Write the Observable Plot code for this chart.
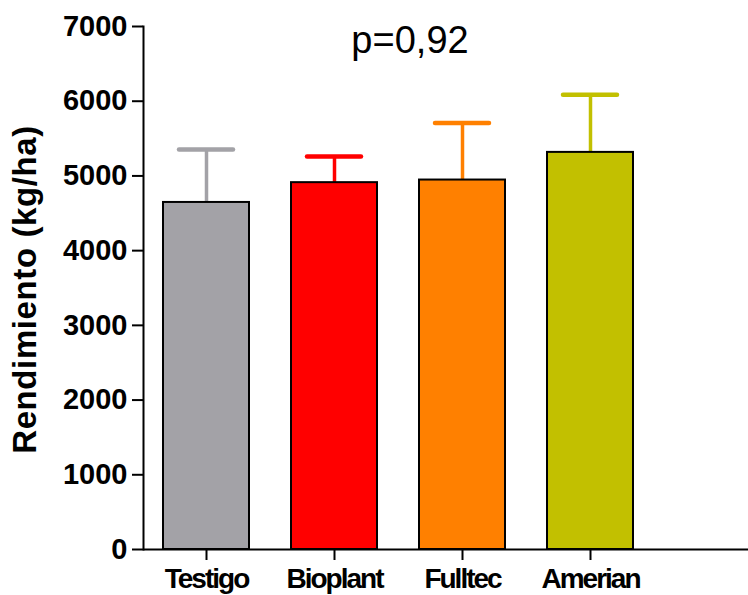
<!DOCTYPE html>
<html>
<head>
<meta charset="utf-8">
<script src="https://cdn.jsdelivr.net/npm/d3@7"></script>
<script src="https://cdn.jsdelivr.net/npm/@observablehq/plot@0.6"></script>
<style>
  body { margin: 0; background: #fff; }
  #chart svg { font-family: "Liberation Sans", Arial, sans-serif; }
  g[aria-label="x-axis tick label"] text { letter-spacing: -2px; }
  g[aria-label="text"]:last-of-type text { letter-spacing: 0.6px; }
</style>
</head>
<body>
<div id="chart"></div>
<script>
const categories = ["Testigo", "Bioplant", "Fulltec", "Amerian"];
const means = [4645, 4910, 4945, 5315];
const errorTops = [5355, 5260, 5710, 6085];
const colors = ["#A3A2A7", "#FF0000", "#FF8000", "#C2C000"];
const yTicks = [0, 1000, 2000, 3000, 4000, 5000, 6000, 7000];
const title = "p=0,92";
const yLabel = "Rendimiento (kg/ha)";

const data = categories.map((c, i) => ({cat: c, mean: means[i], top: errorTops[i]}));

const chart = Plot.plot({
  width: 748,
  height: 595,
  marginTop: 26,
  marginBottom: 46,
  marginLeft: 143,
  marginRight: 0,
  style: {fontFamily: "Liberation Sans, Arial, sans-serif", background: "#fff"},
  x: {domain: categories, range: [143, 653], paddingInner: 0.332, paddingOuter: 0.148},
  y: {domain: [0, 7000]},
  color: {domain: categories, range: colors},
  marks: [
    Plot.ruleX(data, {x: "cat", y1: "mean", y2: "top", stroke: "cat", strokeWidth: 3.5}),
    Plot.tickY(data, {x: "cat", y: "top", stroke: "cat", strokeWidth: 4.5, insetLeft: 16, insetRight: 16, strokeLinecap: "round"}),
    Plot.barY(data, {x: "cat", y: "mean", fill: "cat", stroke: "#000", strokeWidth: 2}),
    Plot.axisY({ticks: yTicks, tickSize: 11, tickPadding: 5, tickFormat: d => String(d), fontSize: 29, fontWeight: "bold", strokeWidth: 2, label: null, color: "#000"}),
    Plot.axisX({tickSize: 11, tickPadding: 8, fontSize: 28, fontWeight: "bold", strokeWidth: 2, label: null, color: "#000"}),
    Plot.frame({anchor: "left", strokeWidth: 2}),
    Plot.ruleY([0], {strokeWidth: 2}),
    Plot.text([title], {frameAnchor: "top", dx: -36, dy: 14, lineAnchor: "middle", fontSize: 38, fill: "#000"}),
    Plot.text([yLabel], {frameAnchor: "left", textAnchor: "middle", rotate: -90, dx: -118, dy: 1.5, lineAnchor: "middle", fontSize: 33, fontWeight: "bold", fill: "#000"})
  ]
});
document.getElementById("chart").appendChild(chart);
</script>
</body>
</html>
